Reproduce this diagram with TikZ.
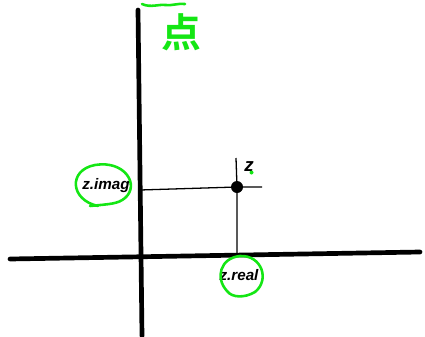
\documentclass[tikz,border=0pt]{standalone}
\usepackage{fontspec}
\setmainfont{Liberation Sans}
\newfontfamily\cjk{Noto Sans CJK SC}[BoldFont={* Bold}]
\usetikzlibrary{positioning}
\definecolor{marker}{RGB}{20,230,20}
\tikzset{
  axis/.style={
    line width=4pt,
    line cap=round
  },
  guide/.style={
    line width=1.1pt
  },
  point/.style={
    inner sep = 0pt,
    shape = circle,
    minimum size = 0.36cm,
    fill
  },
  lbl/.style={
    font = \bfseries\itshape\fontsize{13}{13}\selectfont,
    inner sep=1pt
  },
  ring/.style={
    draw = marker,
    line width=2.2pt,
    line cap=round
  }
}

\begin{document}
\begin{tikzpicture}[x=0.03cm,y=-0.03cm]
        \useasboundingbox (0,0) rectangle (425,336);

        % axes
        \coordinate (xl) at (10,259);
        \coordinate (xr) at (420,252);
        \coordinate (yt) at (138,10);
        \coordinate (yb) at (142,336);
        \draw[axis] (xl) -- (xr);
        \draw[axis] (yt) -- (yb);

        % the point and its guides
        \node[point] (z) at (237,187) {};
        \coordinate (zl) at (140,190);
        \coordinate (zr) at (262,187);
        \coordinate (zt) at (236,158);
        \coordinate (zb) at (237,255);
        \draw[guide] (zl) -- (z) -- (zr);
        \draw[guide] (zt) -- (z) -- (zb);

        \node[lbl, font=\bfseries\itshape\fontsize{16}{16}\selectfont] (zname) at (249,167) {z};
        \fill[marker] (251.5,172.5) circle (2);

        \node[lbl] (imag) at (106,186) {z.imag};
        \node[lbl] (real) at (239,275) {z.real};

        % green marks
        \draw[ring] (98,206) .. controls (70,200) and (68,170) .. (95,165)
                    .. controls (125,160) and (140,185) .. (125,198)
                    .. controls (118,204) and (110,204) .. (90,206);
        \draw[ring] (227,291) .. controls (215,278) and (220,258) .. (240,256)
                    .. controls (262,255) and (270,280) .. (255,292)
                    .. controls (245,298) and (232,298) .. (227,291);
        \draw[ring] (142,4) .. controls (150,8) and (160,4) .. (165,5)
                    .. controls (172,6) and (178,3) .. (185,4);
        \node[text=marker, font=\cjk\bfseries\fontsize{34}{34}\selectfont, inner sep=0pt] (dian) at (181,32) {点};
\end{tikzpicture}
\end{document}
